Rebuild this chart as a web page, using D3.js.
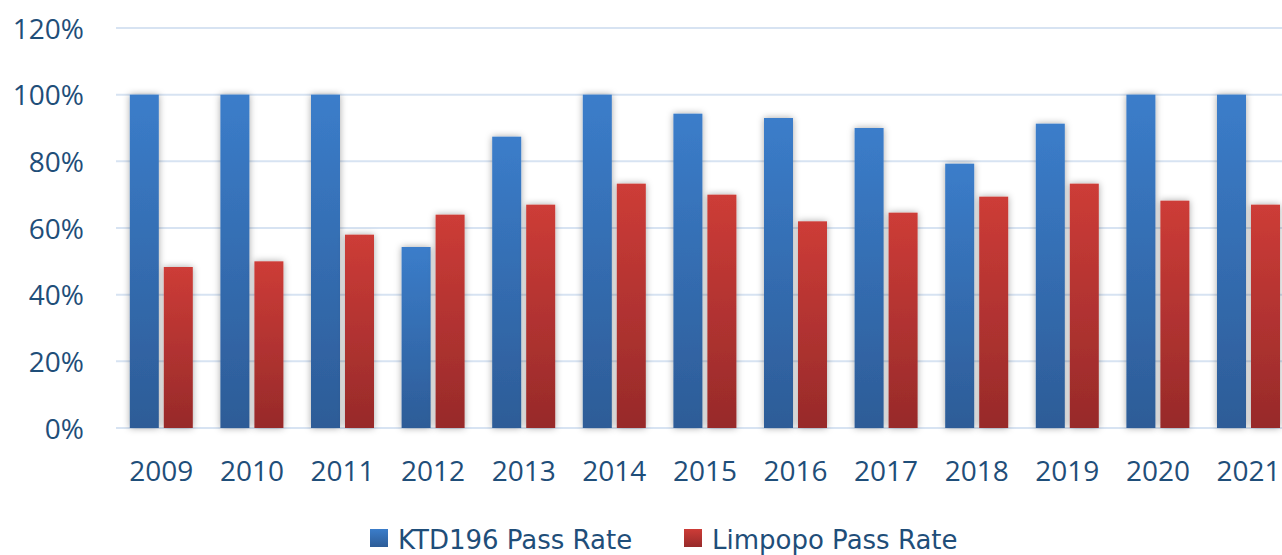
<!DOCTYPE html>
<html><head><meta charset="utf-8">
<script src="https://cdn.jsdelivr.net/npm/d3@7"></script>
<style>html,body{margin:0;padding:0;background:#fff;overflow:hidden}</style>
</head><body>
<svg id="c" width="1282" height="555"></svg>
<script>
const years = ["2009","2010","2011","2012","2013","2014","2015","2016","2017","2018","2019","2020","2021"];
const ktd = [1.00,1.00,1.00,0.543,0.874,1.00,0.943,0.93,0.90,0.793,0.913,1.00,1.00];
const limpopo = [0.483,0.50,0.58,0.64,0.67,0.733,0.70,0.62,0.646,0.694,0.733,0.682,0.67];
const yTicks = [0,0.2,0.4,0.6,0.8,1.0,1.2];
const seriesNames = ["KTD196 Pass Rate","Limpopo Pass Rate"];

const svg = d3.select("#c");
const textColor = "#1f4e79";
const font = "'Open Sans', sans-serif";
const legendFont = "'DejaVu Sans', sans-serif";

const defs = svg.append("defs");
function grad(id, top, bot){
  const g = defs.append("linearGradient").attr("id",id).attr("x1",0).attr("y1",0).attr("x2",0).attr("y2",1);
  g.append("stop").attr("offset","0%").attr("stop-color",top);
  g.append("stop").attr("offset","100%").attr("stop-color",bot);
}
grad("gBlue","#3b7dca","#2d5c97");
grad("gRed","#cd3c37","#972a2a");
const f = defs.append("filter").attr("id","sh").attr("x","-50%").attr("y","-10%").attr("width","200%").attr("height","120%");
f.append("feDropShadow").attr("dx",0).attr("dy",0).attr("stdDeviation",3.5).attr("flood-color","#000").attr("flood-opacity",0.35);

const x = d3.scaleBand().domain(years).range([116, 116 + 13*90.6]).padding(0);
const xs = d3.scaleBand().domain([0,1]).range([0, x.bandwidth()]).paddingInner(0.147).paddingOuter(0.406);
const y = d3.scaleLinear().domain([0,1.2]).range([428,28]);

// gridlines
svg.append("g").selectAll("line").data(yTicks).join("line")
  .attr("x1",116).attr("x2",1282)
  .attr("y1",d=>y(d)).attr("y2",d=>y(d))
  .attr("stroke","#d7e3f2").attr("stroke-width",2);

// y labels
const yAxis = d3.axisLeft(y).tickValues(yTicks).tickFormat(d=>Math.round(d*100)+"%").tickSize(0).tickPadding(0);
const yg = svg.append("g").attr("transform","translate(84,0)").call(yAxis);
yg.select(".domain").remove();
yg.selectAll("text").attr("fill",textColor).style("font-family",font).style("font-size","28px").attr("dy","0.36em");

// x labels
const xAxis = d3.axisBottom(x).tickSize(0).tickPadding(0);
const xg = svg.append("g").attr("transform","translate(0,460)").call(xAxis);
xg.select(".domain").remove();
xg.selectAll("text").attr("fill",textColor).style("font-family",font).style("font-size","28px").attr("dy","0.76em");

// bars
const series = [ktd, limpopo];
const fills = ["url(#gBlue)","url(#gRed)"];
series.forEach((vals, si) => {
  svg.append("g").attr("filter","url(#sh)").selectAll("rect").data(vals).join("rect")
    .attr("x",(d,i)=>x(years[i]) + xs(si))
    .attr("width", xs.bandwidth())
    .attr("y", d=>y(d))
    .attr("height", d=>y(0)-y(d))
    .attr("fill", fills[si]);
});

// legend
const legX = [370, 684];
const legColors = ["url(#gBlue)","url(#gRed)"];
seriesNames.forEach((n,i)=>{
  svg.append("rect").attr("x",legX[i]).attr("y",529).attr("width",18).attr("height",18).attr("fill",legColors[i]);
  svg.append("text").attr("x",legX[i]+28).attr("y",549).text(n)
    .attr("fill",textColor).style("font-family",legendFont).style("font-size","26px");
});
</script>
</body></html>
